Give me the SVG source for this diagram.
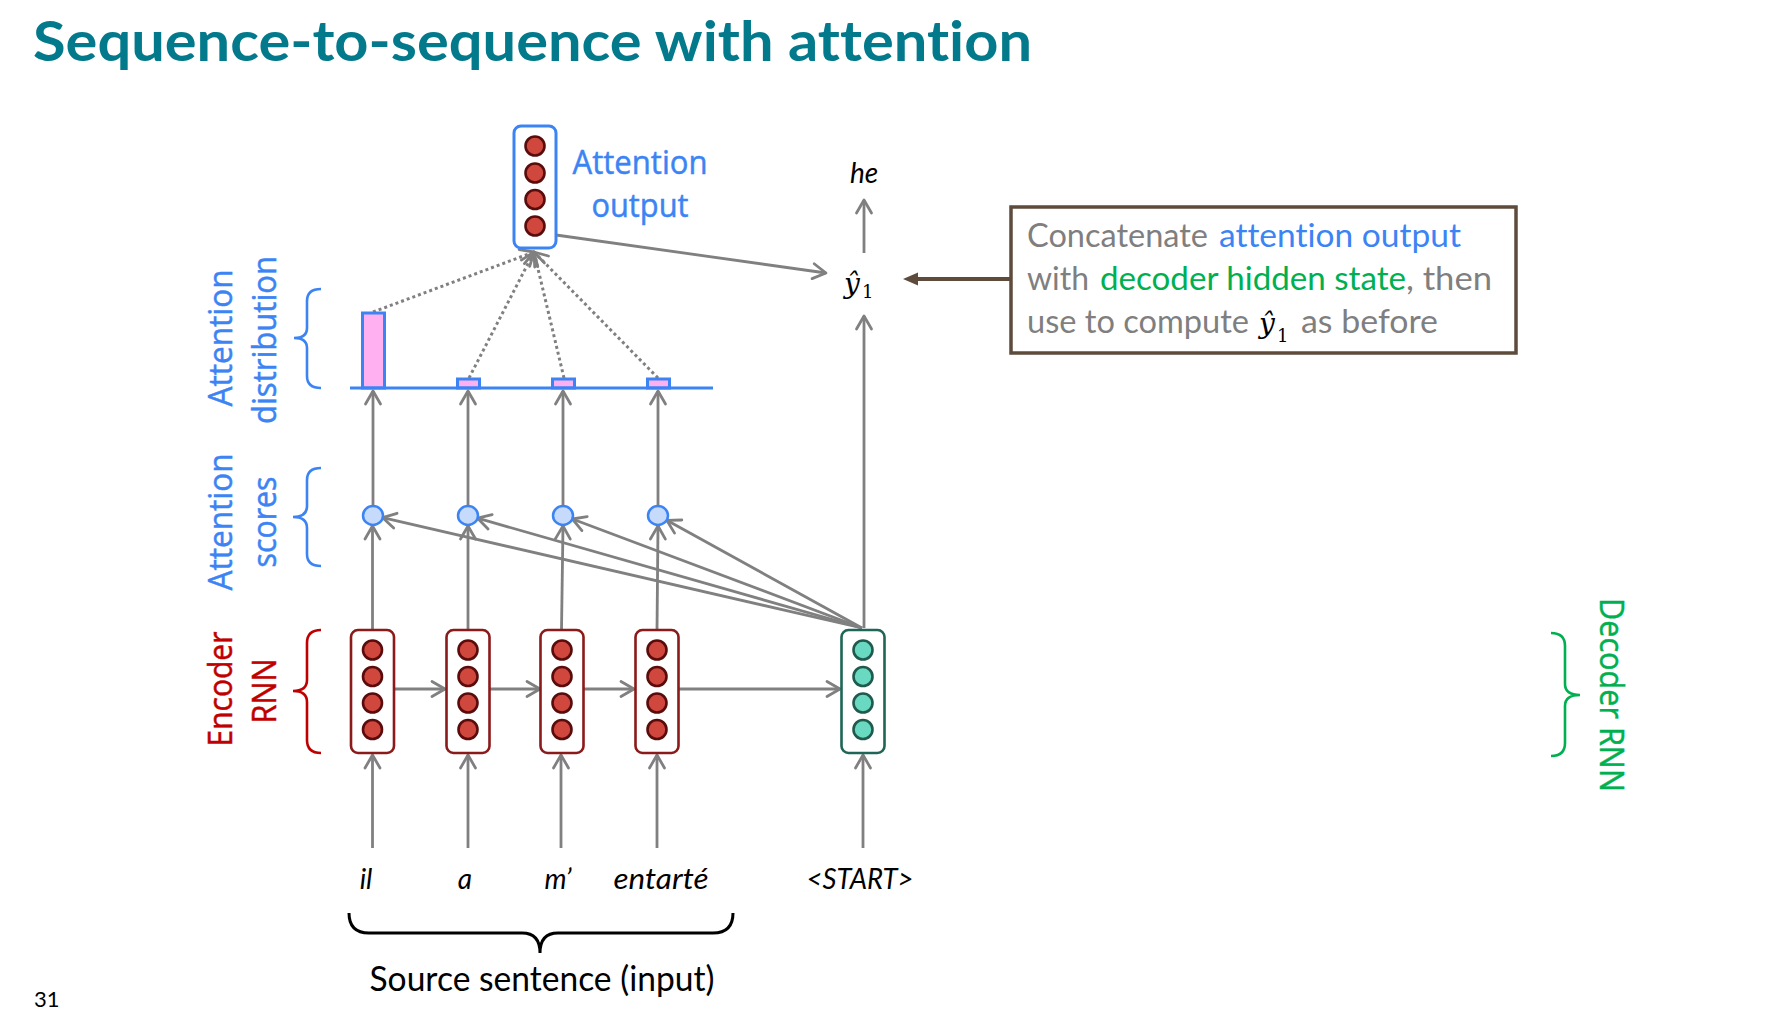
<svg xmlns="http://www.w3.org/2000/svg" width="1786" height="1026" viewBox="0 0 1786 1026">
<defs>
<style>
.ln{stroke:#808080;stroke-width:2.8;fill:none}
.dot{stroke:#808080;stroke-width:3;fill:none;stroke-dasharray:3 3}
.enc rect{fill:#fff;stroke:#8B1A1A;stroke-width:2.6}
.enc ellipse,.att ellipse{fill:#D0473D;stroke:#5A0C0C;stroke-width:2.6}
.dec rect{fill:#fff;stroke:#1F6656;stroke-width:2.6}
.dec ellipse{fill:#6AD9C2;stroke:#1F5A4D;stroke-width:2.6}
.att rect{fill:#fff;stroke:#3C84F4;stroke-width:3}
.score{fill:#C6DBFC;stroke:#3C84F4;stroke-width:2.5}
.bar{fill:#FFB0F0;stroke:#3C84F4;stroke-width:3}
.brace{fill:none;stroke-width:2.6}
.lbl{font-family:'Open Sans','Noto Sans',sans-serif;font-size:33px;stroke-width:0.5}
.cal{font-family:Lato,'Open Sans',sans-serif;font-variant-ligatures:none}
.word{font-family:Lato,'Open Sans',sans-serif;font-style:italic;font-size:28px;fill:#000;font-variant-ligatures:none}
.bx{font-family:Lato,'Open Sans',sans-serif;font-size:33px;font-variant-ligatures:none}
.math{font-family:'DejaVu Serif','Liberation Serif',serif;fill:#000}
</style>
<marker id="ah" markerUnits="userSpaceOnUse" viewBox="-16 -10 20 20" refX="0" refY="0" markerWidth="20" markerHeight="20" orient="auto" overflow="visible">
<path d="M-13,-7.5 L0,0 L-13,7.5" fill="none" stroke="#808080" stroke-width="2.8" stroke-linecap="round" stroke-linejoin="round"/>
</marker>
<marker id="bh" markerUnits="userSpaceOnUse" viewBox="-8 -8 20 16" refX="0" refY="0" markerWidth="20" markerHeight="16" orient="auto" overflow="visible">
<path d="M-5,-6.5 L10,0 L-5,6.5 Z" fill="#5F4B3B"/>
</marker>
</defs>
<rect width="1786" height="1026" fill="#fff"/>

<text x="33" y="61" class="cal" font-weight="700" font-size="56" fill="#037A8C" textLength="999" lengthAdjust="spacingAndGlyphs">Sequence-to-sequence with attention</text>

<g id="connectors">
<line class="ln" x1="372.5" y1="848" x2="372.5" y2="755" marker-end="url(#ah)"/>
<line class="ln" x1="468" y1="848" x2="468" y2="755" marker-end="url(#ah)"/>
<line class="ln" x1="561" y1="848" x2="561" y2="755" marker-end="url(#ah)"/>
<line class="ln" x1="657" y1="848" x2="657" y2="755" marker-end="url(#ah)"/>
<line class="ln" x1="863" y1="848" x2="863" y2="755" marker-end="url(#ah)"/>
<line class="ln" x1="393" y1="689" x2="445" y2="689" marker-end="url(#ah)"/>
<line class="ln" x1="490" y1="689" x2="540" y2="689" marker-end="url(#ah)"/>
<line class="ln" x1="584" y1="689" x2="634" y2="689" marker-end="url(#ah)"/>
<line class="ln" x1="679" y1="689" x2="840" y2="689" marker-end="url(#ah)"/>
<line class="ln" x1="372.5" y1="630" x2="372.5" y2="526" marker-end="url(#ah)"/>
<line class="ln" x1="468" y1="630" x2="468" y2="526" marker-end="url(#ah)"/>
<line class="ln" x1="561.5" y1="630" x2="563" y2="526" marker-end="url(#ah)"/>
<line class="ln" x1="657" y1="630" x2="658" y2="526" marker-end="url(#ah)"/>
<line class="ln" x1="373" y1="505" x2="373" y2="391" marker-end="url(#ah)"/>
<line class="ln" x1="468" y1="505" x2="468" y2="391" marker-end="url(#ah)"/>
<line class="ln" x1="563" y1="505" x2="563" y2="391" marker-end="url(#ah)"/>
<line class="ln" x1="658" y1="505" x2="658" y2="391" marker-end="url(#ah)"/>
<line class="ln" x1="862" y1="628" x2="382.7" y2="517.7" marker-end="url(#ah)"/>
<line class="ln" x1="862" y1="628" x2="477.6" y2="518.2" marker-end="url(#ah)"/>
<line class="ln" x1="862" y1="628" x2="572.4" y2="519" marker-end="url(#ah)"/>
<line class="ln" x1="862" y1="628" x2="666.8" y2="520.3" marker-end="url(#ah)"/>
<line class="ln" x1="864" y1="628" x2="864" y2="316" marker-end="url(#ah)"/>
<line class="ln" x1="864" y1="253" x2="864" y2="200" marker-end="url(#ah)"/>
<line class="ln" x1="556" y1="235" x2="826" y2="273" marker-end="url(#ah)"/>
<line class="dot" x1="373" y1="312" x2="534" y2="252" marker-end="url(#ah)"/>
<line class="dot" x1="469" y1="378" x2="534" y2="252" marker-end="url(#ah)"/>
<line class="dot" x1="564" y1="378" x2="534" y2="252" marker-end="url(#ah)"/>
<line class="dot" x1="658" y1="378" x2="534" y2="252" marker-end="url(#ah)"/>
<line x1="1010" y1="279" x2="913" y2="279" stroke="#5F4B3B" stroke-width="4" marker-end="url(#bh)"/>
</g>

<g id="enc1" class="enc"><rect x="351" y="630" width="43" height="123" rx="7"/><ellipse cx="372.5" cy="650" rx="9.5" ry="9.5"/><ellipse cx="372.5" cy="676.5" rx="9.5" ry="9.5"/><ellipse cx="372.5" cy="703" rx="9.5" ry="9.5"/><ellipse cx="372.5" cy="729.5" rx="9.5" ry="9.5"/></g>
<g id="enc2" class="enc"><rect x="446.5" y="630" width="43" height="123" rx="7"/><ellipse cx="468" cy="650" rx="9.5" ry="9.5"/><ellipse cx="468" cy="676.5" rx="9.5" ry="9.5"/><ellipse cx="468" cy="703" rx="9.5" ry="9.5"/><ellipse cx="468" cy="729.5" rx="9.5" ry="9.5"/></g>
<g id="enc3" class="enc"><rect x="540.5" y="630" width="43" height="123" rx="7"/><ellipse cx="562" cy="650" rx="9.5" ry="9.5"/><ellipse cx="562" cy="676.5" rx="9.5" ry="9.5"/><ellipse cx="562" cy="703" rx="9.5" ry="9.5"/><ellipse cx="562" cy="729.5" rx="9.5" ry="9.5"/></g>
<g id="enc4" class="enc"><rect x="635.5" y="630" width="43" height="123" rx="7"/><ellipse cx="657" cy="650" rx="9.5" ry="9.5"/><ellipse cx="657" cy="676.5" rx="9.5" ry="9.5"/><ellipse cx="657" cy="703" rx="9.5" ry="9.5"/><ellipse cx="657" cy="729.5" rx="9.5" ry="9.5"/></g>
<g id="dec1" class="dec"><rect x="841.5" y="630" width="43" height="123" rx="7"/><ellipse cx="863" cy="650" rx="9.5" ry="9.5"/><ellipse cx="863" cy="676.5" rx="9.5" ry="9.5"/><ellipse cx="863" cy="703" rx="9.5" ry="9.5"/><ellipse cx="863" cy="729.5" rx="9.5" ry="9.5"/></g>

<g id="scores">
<ellipse class="score" cx="373" cy="515.5" rx="10" ry="9.5"/>
<ellipse class="score" cx="468" cy="515.5" rx="10" ry="9.5"/>
<ellipse class="score" cx="563" cy="515.5" rx="10" ry="9.5"/>
<ellipse class="score" cx="658" cy="515.5" rx="10" ry="9.5"/>
</g>

<g id="distribution">
<rect class="bar" x="362.5" y="313" width="22" height="75"/>
<rect class="bar" x="457.5" y="379" width="22" height="9"/>
<rect class="bar" x="552.5" y="379" width="22" height="9"/>
<rect class="bar" x="647.5" y="379" width="22" height="9"/>
<line x1="350" y1="388" x2="713" y2="388" stroke="#3C84F4" stroke-width="3"/>
</g>

<g id="attout" class="att"><rect x="514" y="126" width="42" height="122" rx="7"/><ellipse cx="535" cy="146" rx="9.5" ry="9.5"/><ellipse cx="535" cy="173" rx="9.5" ry="9.5"/><ellipse cx="535" cy="199.5" rx="9.5" ry="9.5"/><ellipse cx="535" cy="226" rx="9.5" ry="9.5"/></g>
<g id="attout-label" class="lbl" fill="#3C84F4" stroke="#3C84F4" text-anchor="middle">
<text x="640" y="174" textLength="135" lengthAdjust="spacingAndGlyphs">Attention</text>
<text x="640" y="217" textLength="97" lengthAdjust="spacingAndGlyphs">output</text>
</g>

<g id="yhat">
<text class="math" x="844" y="293" font-size="28" font-style="italic">ŷ</text>
<text class="math" x="862" y="298" font-size="18">1</text>
</g>
<g id="he"><text class="word" x="864" y="183" text-anchor="middle">he</text></g>

<g id="callout">
<rect x="1011" y="207" width="505" height="146" fill="#fff" stroke="#5F4B3B" stroke-width="3.5"/>
<g class="bx">
<text x="1027" y="247" fill="#7F7F7F" textLength="181" lengthAdjust="spacingAndGlyphs">Concatenate</text>
<text x="1219" y="247" fill="#3C84F4" textLength="242" lengthAdjust="spacingAndGlyphs">attention output</text>
<text x="1027" y="290" fill="#7F7F7F" textLength="62" lengthAdjust="spacingAndGlyphs">with</text>
<text x="1100" y="290" fill="#00B050" textLength="306" lengthAdjust="spacingAndGlyphs">decoder hidden state</text>
<text x="1406" y="290" fill="#7F7F7F" textLength="86" lengthAdjust="spacingAndGlyphs">, then</text>
<text x="1027" y="333" fill="#7F7F7F" textLength="222" lengthAdjust="spacingAndGlyphs">use to compute</text>
<text x="1301" y="333" fill="#7F7F7F" textLength="137" lengthAdjust="spacingAndGlyphs">as before</text>
</g>
<text class="math" x="1259" y="333" font-size="28" font-style="italic">ŷ</text>
<text class="math" x="1277" y="342" font-size="18">1</text>
</g>

<g id="label-dist" class="lbl" fill="#3C84F4" stroke="#3C84F4" text-anchor="middle">
<text transform="translate(232,338) rotate(-90)" textLength="137" lengthAdjust="spacingAndGlyphs">Attention</text>
<text transform="translate(276,340) rotate(-90)" textLength="168" lengthAdjust="spacingAndGlyphs">distribution</text>
</g>
<path class="brace" stroke="#3C84F4" d="M321,289 Q307,289 307,301 L307,328 Q307,338 294,338 Q307,338 307,348 L307,376 Q307,388 321,388"/>

<g id="label-scores" class="lbl" fill="#3C84F4" stroke="#3C84F4" text-anchor="middle">
<text transform="translate(232,522) rotate(-90)" textLength="137" lengthAdjust="spacingAndGlyphs">Attention</text>
<text transform="translate(276,522) rotate(-90)" textLength="91" lengthAdjust="spacingAndGlyphs">scores</text>
</g>
<path class="brace" stroke="#3C84F4" d="M321,468 Q307,468 307,480 L307,506 Q307,517 293,517 Q307,517 307,528 L307,554 Q307,566 321,566"/>

<g id="label-enc" class="lbl" fill="#C00000" stroke="#C00000" text-anchor="middle">
<text transform="translate(232,689) rotate(-90)" textLength="115" lengthAdjust="spacingAndGlyphs">Encoder</text>
<text transform="translate(276,691) rotate(-90)" textLength="65" lengthAdjust="spacingAndGlyphs">RNN</text>
</g>
<path class="brace" stroke="#C00000" d="M321,630 Q307,630 307,643 L307,680 Q307,691 293,691 Q307,691 307,702 L307,740 Q307,753 321,753"/>

<g id="label-dec" class="lbl" fill="#00B050" stroke="#00B050" text-anchor="middle">
<text transform="translate(1600,695) rotate(90)" textLength="194" lengthAdjust="spacingAndGlyphs">Decoder RNN</text>
</g>
<path class="brace" stroke="#00B050" d="M1551,633 Q1565,633 1565,646 L1565,684 Q1565,695 1580,695 Q1565,695 1565,706 L1565,743 Q1565,756 1551,756"/>

<g id="words">
<text class="word" x="366" y="889" text-anchor="middle">il</text>
<text class="word" x="465" y="889" text-anchor="middle">a</text>
<text class="word" x="558" y="889" text-anchor="middle">m’</text>
<text class="word" x="661" y="889" text-anchor="middle" textLength="95" lengthAdjust="spacingAndGlyphs">entarté</text>
<text class="word" x="860" y="889" text-anchor="middle" textLength="107" lengthAdjust="spacingAndGlyphs">&lt;START&gt;</text>
</g>

<g id="source">
<path d="M349,913 Q349,933 369,933 L522,933 Q540,933 540,953 Q540,933 558,933 L713,933 Q733,933 733,913" fill="none" stroke="#000" stroke-width="3"/>
<text class="cal" x="542" y="991" font-size="35" text-anchor="middle" fill="#000" textLength="345" lengthAdjust="spacingAndGlyphs">Source sentence (input)</text>
</g>

<text class="cal" x="34" y="1007" font-size="22" fill="#000">31</text>
</svg>
